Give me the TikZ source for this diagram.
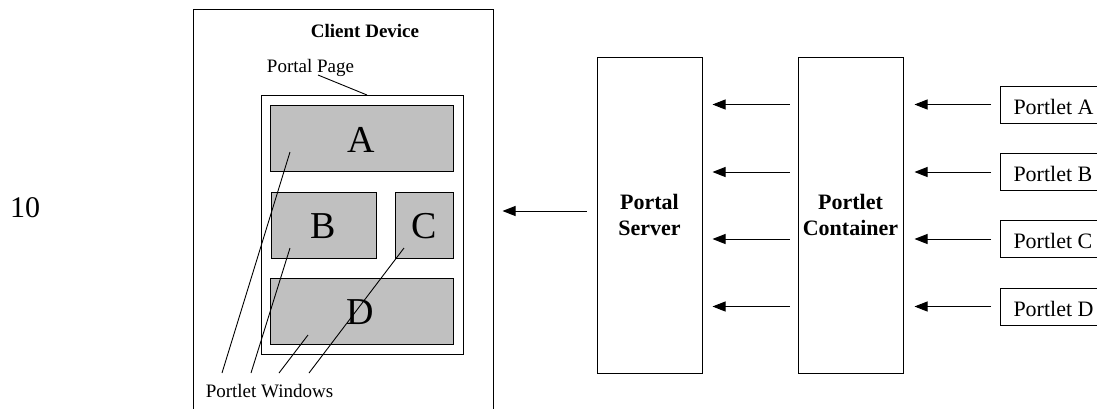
\documentclass[tikz,border=0pt]{standalone}
\usepackage{fontspec}
\setmainfont{Liberation Serif}
\usetikzlibrary{arrows.meta}
\definecolor{boxgray}{HTML}{C0C0C0}
\begin{document}
\begin{tikzpicture}[x=1pt,y=-1pt,
  box/.style={draw=black, line width=1pt, inner sep=0pt},
  win/.style={box, fill=boxgray, minimum height=66pt},
  bigletter/.style={font=\fontsize{38}{40}\selectfont, inner sep=0pt},
  lbl/.style={font=\fontsize{19}{22}\selectfont, inner sep=0pt},
  tall/.style={box, minimum width=105pt, minimum height=316pt, align=center, font=\bfseries\fontsize{22}{26}\selectfont},
  portlet/.style={box, anchor=west, minimum height=37pt, inner xsep=13pt, text height=19pt, text depth=0pt, font=\fontsize{22}{26}\selectfont},
  arr/.style={-{Triangle[length=13pt,width=10pt]}, line width=1pt},
  lead/.style={line width=0.9pt}]

\useasboundingbox (0,0) rectangle (1097,408);

\node[inner sep=0pt, font=\fontsize{30}{32}\selectfont, anchor=base] (ten) at (25,217) {10};

% client device
\node[box, minimum width=300pt, minimum height=412pt] (cd) at (343,215) {};
\node[lbl, font=\bfseries\fontsize{19}{22}\selectfont, anchor=base] (cdl) at (365,37) {Client Device};
\node[lbl, anchor=base] (ppl) at (310.5,72) {Portal Page};
\node[box, minimum width=202pt, minimum height=259pt] (pp) at (362,224.5) {};

\node[win, minimum width=183pt] (wa) at (361.5,138) {};
\node[win, minimum width=105pt] (wb) at (323.5,225) {};
\node[win, minimum width=58pt] (wc) at (424,225) {};
\node[win, minimum width=183pt] (wd) at (361.5,311) {};

\node[bigletter] (la) at (361,139.5) {A};
\node[bigletter] (lb) at (323,226) {B};
\node[bigletter] (lc) at (424,226) {C};
\node[bigletter] (ld) at (360.5,312.5) {D};

\node[lbl, anchor=base] (pwl) at (269.5,397) {Portlet Windows};

% leader lines
\coordinate (ppa) at (318,75);
\coordinate (ppb) at (367,95);
\draw[lead] (ppa) -- (ppb);

\coordinate (pw1) at (222,373);
\coordinate (pw2) at (251,373);
\coordinate (pw3) at (279,373);
\coordinate (pw4) at (309,373);
\coordinate (ia) at (290,152);
\coordinate (ib) at (290,248);
\coordinate (id) at (308,335);
\coordinate (ic) at (404,248);
\draw[lead] (pw1) -- (ia);
\draw[lead] (pw2) -- (ib);
\draw[lead] (pw3) -- (id);
\draw[lead] (pw4) -- (ic);

% servers
\node[tall] (srv) at (649.5,215) {Portal\\Server};
\node[tall] (cont) at (850.5,215) {Portlet\\Container};

\node[portlet] (pA) at (1000,104.5) {Portlet A};
\node[portlet] (pB) at (1000,172) {Portlet B};
\node[portlet] (pC) at (1000,239) {Portlet C};
\node[portlet] (pD) at (1000,306.5) {Portlet D};

\foreach \p in {pA,pB,pC,pD}{
  \draw[arr, shorten <=9pt, shorten >=11pt] (\p.west) -- (\p.west -| cont.east);
  \draw[arr, shorten <=8pt, shorten >=10pt] (\p.west -| cont.west) -- (\p.west -| srv.east);
}

\coordinate (lw) at ([yshift=4pt]srv.west);
\draw[arr, shorten <=10pt, shorten >=9pt] (lw) -- (lw -| cd.east);
\end{tikzpicture}
\end{document}
